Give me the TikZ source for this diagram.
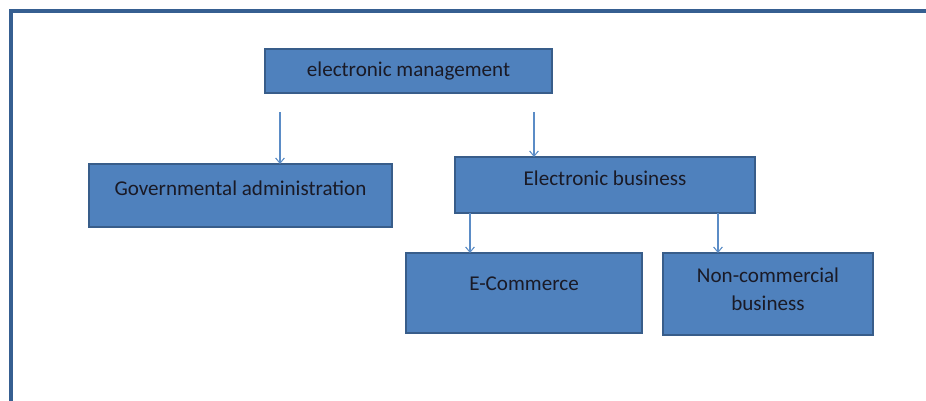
\documentclass[tikz,border=0pt]{standalone}
\usepackage{fontspec}
\setmainfont{Carlito}
\usepackage{tikz}
\usetikzlibrary{arrows.meta}

\definecolor{boxfill}{HTML}{4F81BD}
\definecolor{boxline}{HTML}{385D8A}
\definecolor{frameline}{HTML}{365F91}
\definecolor{arrowline}{HTML}{5B8CC6}
\definecolor{boxtext}{HTML}{1A1A26}

\begin{document}
\begin{tikzpicture}[x=0.02cm, y=-0.02cm,
    box/.style={draw=boxline, fill=boxfill, line width=1.4pt, outer sep=0pt,
        text=boxtext, font=\fontsize{12}{16}\selectfont, align=center},
    feed/.style={arrowline, line width=0.6pt, -{Straight Barb[length=3pt, width=5pt]}}]
    \useasboundingbox (0,0) rectangle (926,400);
    %frame
    \draw[frameline, line width=2pt] (11,405) -- (11,11) -- (930,11);
    %top box
    \node[box, minimum width=5.74cm, minimum height=0.88cm] (emgmt) at (408.5,71)
        {electronic management};
    %second row
    \node[box, minimum width=6.06cm, minimum height=1.26cm, text height=8pt, text depth=8.5pt]
        (govadm) at (240.5,195.5) {Governmental administration};
    \node[box, minimum width=6.0cm, minimum height=1.12cm, text height=8pt, text depth=8pt]
        (ebiz) at (605,185) {Electronic business};
    %third row
    \node[box, minimum width=4.72cm, minimum height=1.6cm, text height=8pt, text depth=11.4pt]
        (ecom) at (524,293) {E-Commerce};
    \node[box, minimum width=4.2cm, minimum height=1.64cm] (noncom) at (768,294)
        {Non-commercial\\business\\[-11pt]};
    %arrows
    \coordinate (a1) at (280,112);
    \coordinate (a2) at (534,112);
    \coordinate (a3) at (470,213);
    \coordinate (a4) at (718,213);
    \draw[feed] (a1) -- (a1 |- govadm.north);
    \draw[feed] (a2) -- (a2 |- ebiz.north);
    \draw[feed] (a3) -- (a3 |- ecom.north);
    \draw[feed] (a4) -- (a4 |- noncom.north);
\end{tikzpicture}
\end{document}
